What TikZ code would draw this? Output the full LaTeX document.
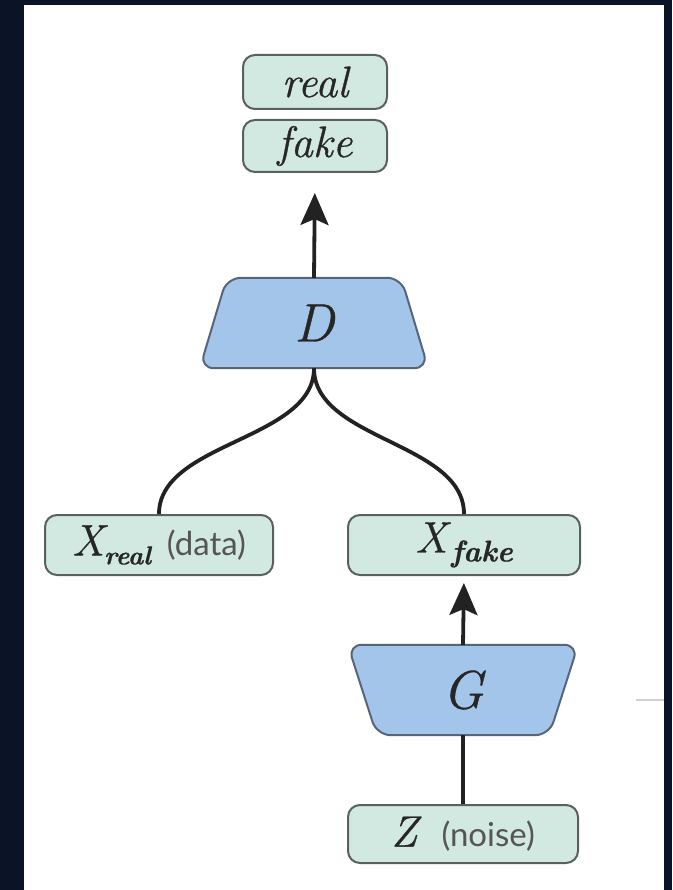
\documentclass[tikz,border=0pt]{standalone}
\usepackage{fontspec}
\newfontfamily\notefont{Lato}
\newfontfamily\labelfont{Latin Modern Roman}[FakeBold=0.7]
\usetikzlibrary{arrows.meta,backgrounds}

\definecolor{frame}{HTML}{0B1326}
\definecolor{boxfill}{HTML}{D2E9E1}
\definecolor{boxline}{HTML}{5A605E}
\definecolor{netfill}{HTML}{A4C5EA}
\definecolor{netline}{HTML}{56657A}
\definecolor{wire}{HTML}{222222}
\definecolor{note}{HTML}{555555}

\tikzset{
  tag/.style={draw=boxline, fill=boxfill, line width=2pt, rounded corners=12pt,
    inner sep=0pt, font=\labelfont\itshape\fontsize{44}{48}\selectfont, text=black!85},
  netbox/.style={inner sep=0pt, minimum width=#1, minimum height=90pt,
    font=\labelfont\itshape\fontsize{54}{58}\selectfont, text=black!85},
  netshape/.style={draw=netline, fill=netfill, line width=2pt, rounded corners=14pt},
  wire/.style={draw=wire, line width=3.8pt},
  feed/.style={wire, -{Stealth[length=32pt,width=28pt,inset=6pt]}},
}
\newcommand{\sidenote}[1]{{\upshape\notefont\fontsize{33}{35}\selectfont\color{note}#1}}
\newcommand{\lowsub}[2][30]{\raisebox{-9pt}{\fontsize{#1}{#1}\selectfont\bfseries #2}}

\begin{document}
\begin{tikzpicture}[x=1pt,y=-1pt]
  \useasboundingbox (0,0) rectangle (672,890);

  % output labels
  \node[tag, minimum width=144pt, minimum height=54pt] (real) at (315,82) {real};
  \node[tag, minimum width=144pt, minimum height=52pt] (fake) at (315,146) {fake};

  % discriminator and generator
  \node[netbox=228pt] (D) at (314,323) {D};
  \node[netbox=230pt] (G) at (463,690) {G};

  % samples
  \node[tag, minimum width=228pt, minimum height=60pt] (xr) at (159,545)
    {X\lowsub[26]{real}\hspace{16pt}\sidenote{(data)}};
  \node[tag, minimum width=232pt, minimum height=60pt] (xf) at (464,545)
    {X\hspace{4pt}\lowsub{fake}};
  \node[tag, minimum width=230pt, minimum height=58pt] (z) at (463,834)
    {Z\hspace{24pt}\sidenote{(noise)}};

  \begin{scope}[on background layer]
    % page frame
    \fill[frame] (0,0) rectangle (672,890);
    \fill[white] (24,5) rectangle (664,890);
    % network bodies
    \path[netshape] ([xshift=27pt]D.north west) -- ([xshift=-27pt]D.north east)
      -- (D.south east) -- (D.south west) -- cycle;
    \path[netshape] (G.north west) -- (G.north east)
      -- ([xshift=-29pt]G.south east) -- ([xshift=29pt]G.south west) -- cycle;
  \end{scope}

  % connectors
  \draw[feed, shorten >=20pt] (D.north) -- (fake.south);
  \draw[wire] (D.south) .. controls +(0,72) and +(0,-72) .. (xr.north);
  \draw[wire] (D.south) .. controls +(0,72) and +(0,-72) .. (xf.north);
  \draw[feed, shorten >=7pt] (G.north) -- (xf.south);
  \draw[wire] (G.south) -- (z.north);

  % faint stroke at the right edge
  \coordinate (s1) at (636,700);
  \coordinate (s2) at (664,700);
  \draw[black!18, line width=2pt] (s1) -- (s2);
\end{tikzpicture}
\end{document}
